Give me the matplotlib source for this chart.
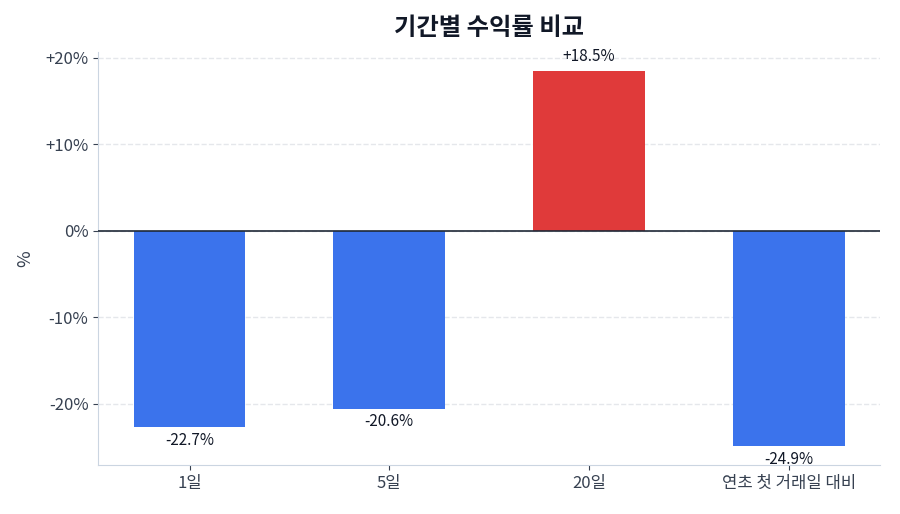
import matplotlib
matplotlib.use("Agg")
import matplotlib.pyplot as plt
from matplotlib.ticker import FuncFormatter

plt.rcParams['font.family'] = ['Noto Sans CJK KR', 'DejaVu Sans']

# 데이터
periods = ["1일", "5일", "20일", "연초 첫 거래일 대비"]
returns = [-22.7, -20.6, 18.5, -24.9]

UP = "#e03a3a"
DOWN = "#3b73ec"
TEXT = "#374151"

fig, ax = plt.subplots(figsize=(9, 5.14), dpi=100)
fig.subplots_adjust(left=0.109, right=0.978, top=0.899, bottom=0.095)

colors = [UP if v >= 0 else DOWN for v in returns]
x = range(len(periods))
ax.bar(x, returns, width=0.56, color=colors, zorder=3)

for i, v in zip(x, returns):
    if v >= 0:
        ax.annotate(f"+{v:.1f}%", (i, v), xytext=(0, 4), textcoords="offset points",
                    ha="center", va="bottom", fontsize=11, color="#111827")
    else:
        ax.annotate(f"{v:.1f}%", (i, v), xytext=(0, -3), textcoords="offset points",
                    ha="center", va="top", fontsize=11, color="#111827")

ax.axhline(0, color="#1f2937", linewidth=1.2, zorder=4)

ax.set_xticks(list(x))
ax.set_xticklabels(periods)
ax.yaxis.set_major_formatter(FuncFormatter(lambda v, _: f"+{v:.0f}%" if v > 0 else f"{v:.0f}%"))
ax.set_yticks([-20, -10, 0, 10, 20])

ax.grid(axis="y", linestyle="--", color="#e5e7eb", linewidth=1, zorder=0)
for s in ["top", "right"]:
    ax.spines[s].set_visible(False)
for s in ["left", "bottom"]:
    ax.spines[s].set_color("#cbd5e1")
ax.tick_params(colors=TEXT, labelsize=12)
ax.tick_params(axis="both", color="#374151")

ax.set_ylabel("%", fontsize=13, color=TEXT, labelpad=8)
ax.set_title("기간별 수익률 비교", fontsize=17.5, fontweight="bold", color="#111827", pad=12)

fig.savefig("out.png", dpi=100)
